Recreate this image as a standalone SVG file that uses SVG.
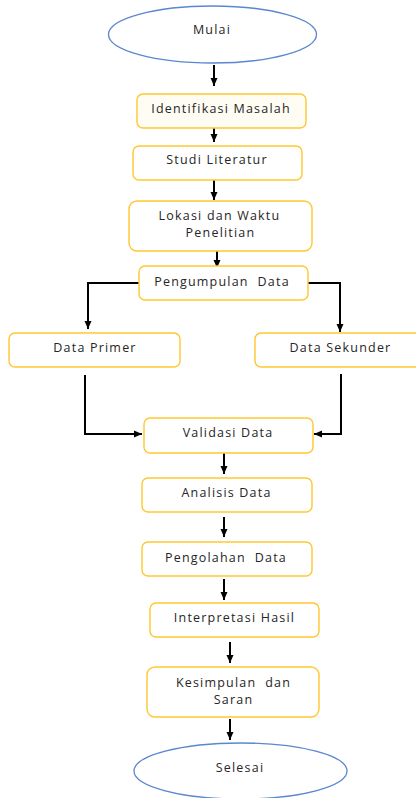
<svg xmlns="http://www.w3.org/2000/svg" width="416" height="798" viewBox="0 0 416 798">
<defs>
<marker id="ah" markerUnits="userSpaceOnUse" markerWidth="8" markerHeight="8" viewBox="0 0 8 8" refX="8" refY="4" orient="auto">
<path d="M0,0.5 L8,4 L0,7.5 Z" fill="#000"/>
</marker>
</defs>
<style>
.box{fill:#fff;stroke:#FFC830;stroke-width:1.4}
.ell{fill:#fff;stroke:#5B86D0;stroke-width:1.3}
.t{font-family:"Open Sans","Noto Sans",sans-serif;font-size:12.5px;fill:#262626;text-anchor:middle;letter-spacing:1.2px}
.c{fill:none;stroke:#000;stroke-width:2;marker-end:url(#ah)}
</style>
<rect width="416" height="798" fill="#fff"/>
<g id="connectors">
<path class="c" d="M214,65 V86"/>
<path class="c" d="M214,128 V142"/>
<path class="c" d="M214,180 V200"/>
<path class="c" d="M217,251 V268"/>
<path class="c" d="M139,283 H88 V329"/>
<path class="c" d="M308,283 H340 V332"/>
<path class="c" d="M85,375 V434 H142"/>
<path class="c" d="M341,374 V434 H314"/>
<path class="c" d="M224,453 V474"/>
<path class="c" d="M224,517 V537"/>
<path class="c" d="M224,579 V600"/>
<path class="c" d="M230,642 V663"/>
<path class="c" d="M230,719 V740"/>
</g>
<g id="mulai">
<ellipse class="ell" cx="212.5" cy="34.5" rx="104" ry="28.5"/>
<text class="t" x="212" y="33.5">Mulai</text>
</g>
<g id="identifikasi">
<rect class="box" x="137" y="94" width="169" height="34" rx="6" style="fill:#FFFCF4"/>
<text class="t" x="221" y="112.5">Identifikasi Masalah</text>
</g>
<g id="studi">
<rect class="box" x="133" y="146" width="169" height="34" rx="6"/>
<text class="t" x="217" y="163.5">Studi Literatur</text>
</g>
<g id="lokasi">
<rect class="box" x="129" y="201" width="183" height="50" rx="8"/>
<text class="t" x="219.5" y="219.5">Lokasi dan Waktu</text>
<text class="t" x="220.5" y="236.5">Penelitian</text>
</g>
<g id="pengumpulan">
<rect class="box" x="139" y="266" width="169" height="34" rx="6"/>
<text class="t" x="222" y="285.5" xml:space="preserve">Pengumpulan  Data</text>
</g>
<g id="primer">
<rect class="box" x="9" y="333" width="171" height="34" rx="6"/>
<text class="t" x="95" y="351.5">Data Primer</text>
</g>
<g id="sekunder">
<rect class="box" x="255" y="333" width="170" height="34" rx="6"/>
<text class="t" x="340.5" y="351.5">Data Sekunder</text>
</g>
<g id="validasi">
<rect class="box" x="144" y="418" width="169" height="35" rx="6"/>
<text class="t" x="228" y="436.5">Validasi Data</text>
</g>
<g id="analisis">
<rect class="box" x="142" y="478" width="170" height="34" rx="6"/>
<text class="t" x="226.5" y="496.5">Analisis Data</text>
</g>
<g id="pengolahan">
<rect class="box" x="142" y="542" width="170" height="34" rx="6"/>
<text class="t" x="226" y="561.5" xml:space="preserve">Pengolahan  Data</text>
</g>
<g id="interpretasi">
<rect class="box" x="150" y="603" width="169" height="34" rx="6"/>
<text class="t" x="234.5" y="621.5">Interpretasi Hasil</text>
</g>
<g id="kesimpulan">
<rect class="box" x="147" y="667" width="172" height="50" rx="8"/>
<text class="t" x="233.5" y="686.5" xml:space="preserve">Kesimpulan  dan</text>
<text class="t" x="233.5" y="704">Saran</text>
</g>
<g id="selesai">
<ellipse class="ell" cx="240.5" cy="771" rx="106.5" ry="28"/>
<text class="t" x="240" y="771.5">Selesai</text>
</g>
</svg>
